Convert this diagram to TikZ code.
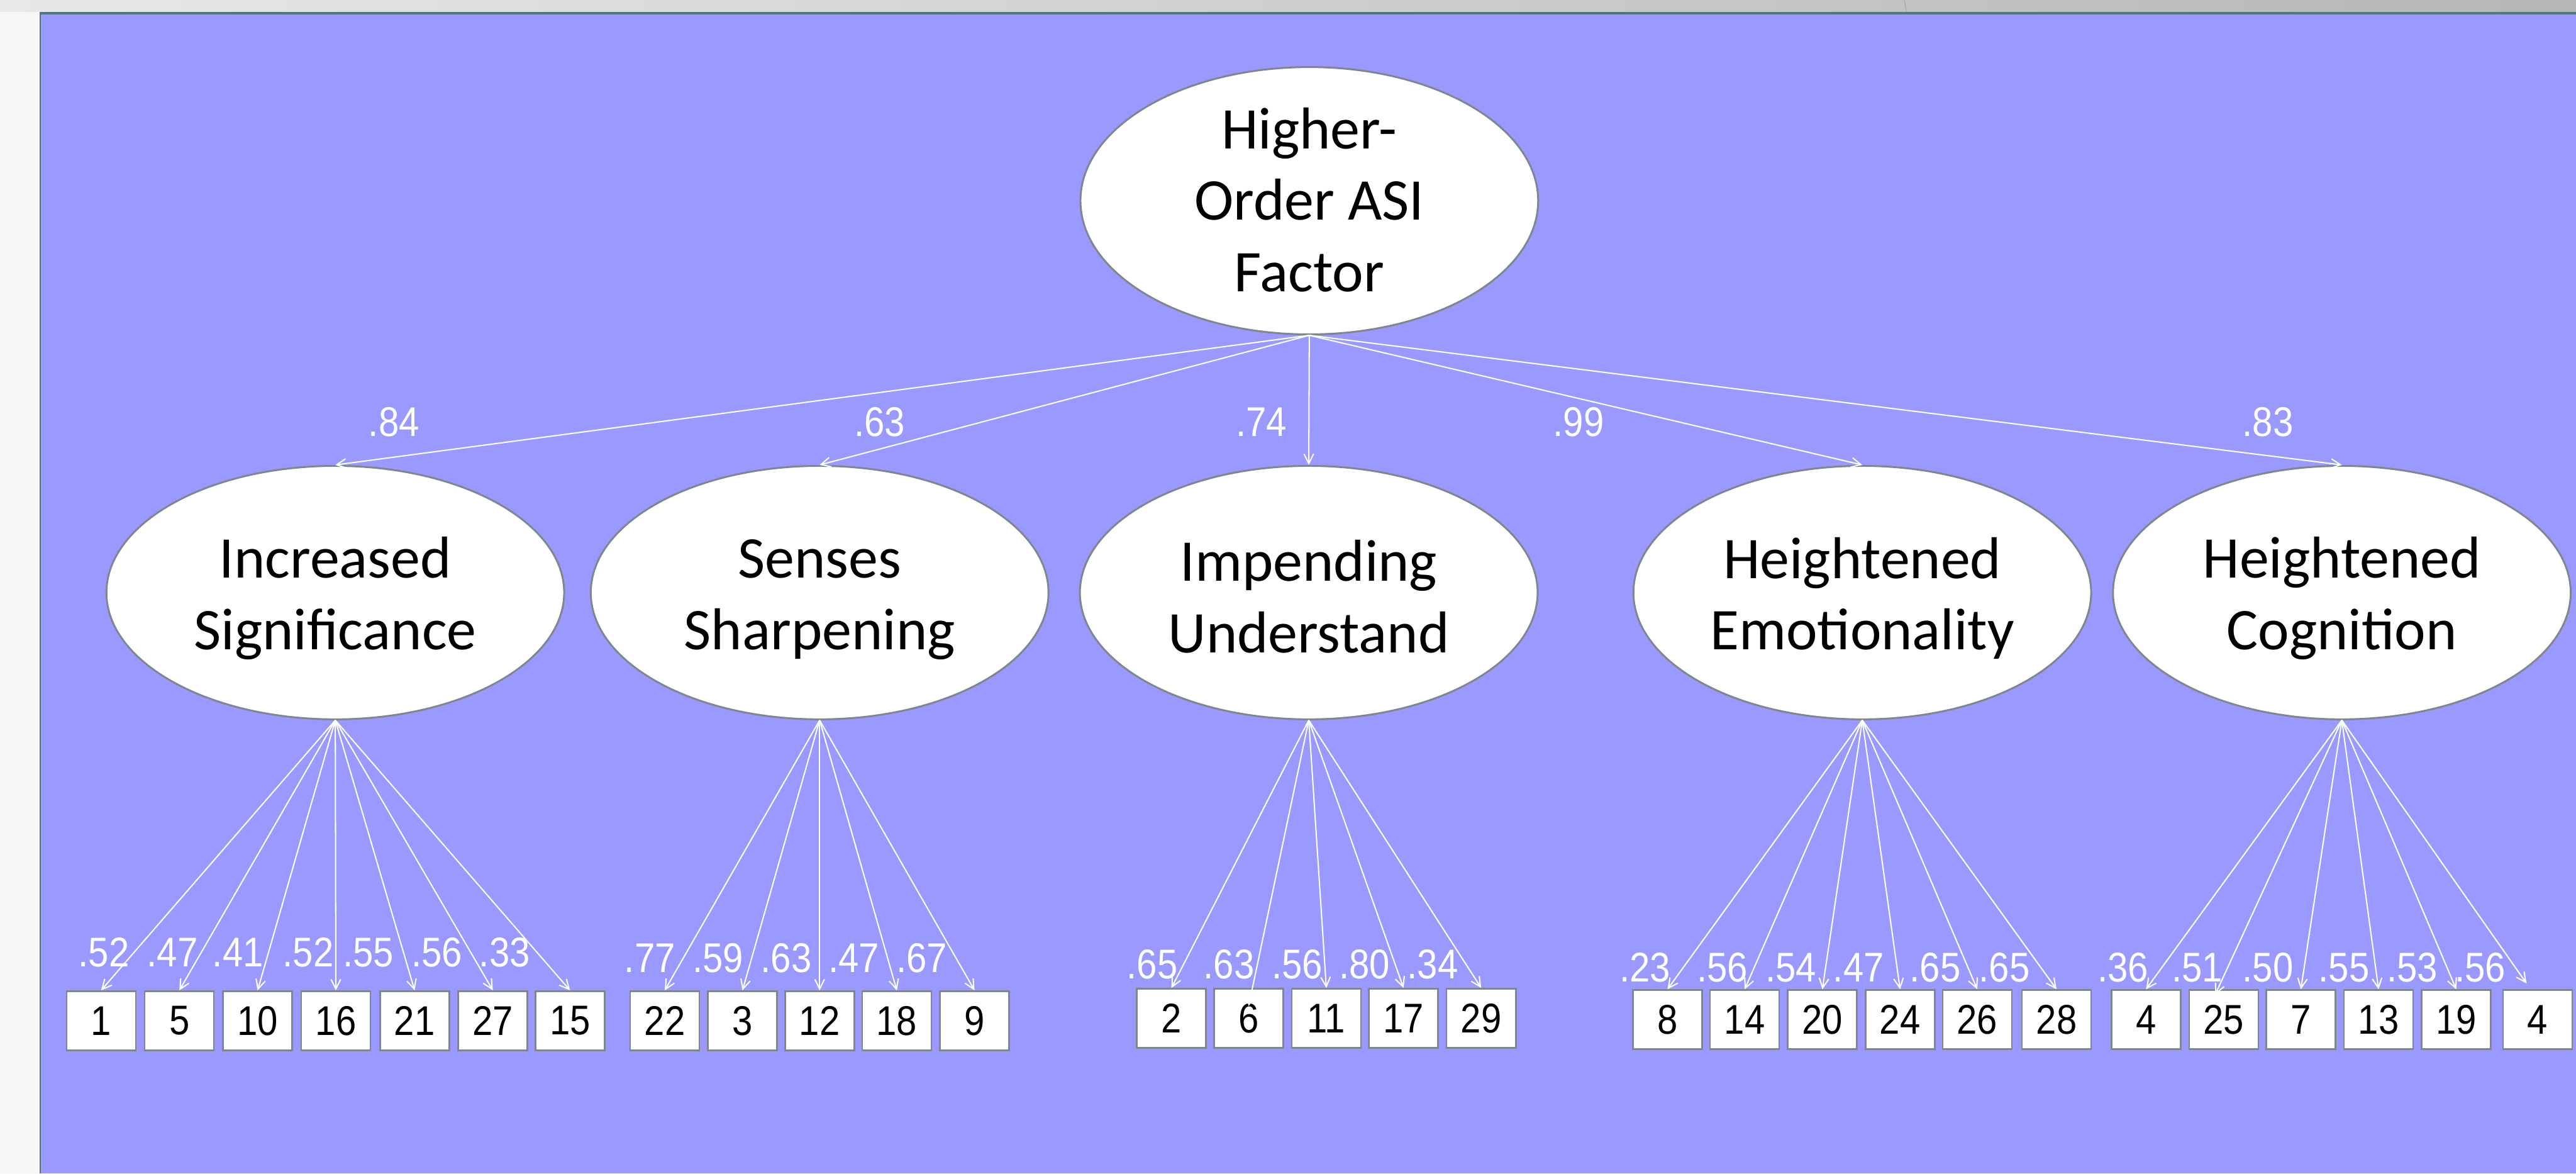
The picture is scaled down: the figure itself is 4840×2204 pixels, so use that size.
\documentclass[tikz,border=0pt]{standalone}
\usepackage{fontspec}
\usetikzlibrary{shapes.geometric,arrows.meta}
\newfontfamily\calib{Carlito}
\newfontfamily\numfont[FakeStretch=0.88]{Liberation Sans}
\newcommand\topst{\rule{0pt}{40pt}}
\newcommand\topstb{\rule{0pt}{49pt}}
\newcommand\botst{\rule[-3.5pt]{0pt}{3.5pt}}
\definecolor{bgblue}{RGB}{153,153,255}
\definecolor{slate}{RGB}{82,117,131}
\definecolor{bordergray}{RGB}{128,134,142}
\definecolor{bandL}{RGB}{232,232,232}
\definecolor{bandR}{RGB}{182,182,182}
\definecolor{stripgray}{RGB}{246,246,246}
\definecolor{bandline}{RGB}{165,165,165}
\tikzset{
  latent/.style={ellipse, draw=bordergray, line width=1.75pt, fill=white,
    minimum width=430pt, minimum height=238pt, inner sep=0pt, align=center,
    font=\calib\fontsize{55.5}{67}\selectfont},
  item/.style={rectangle, draw=bordergray, line width=1.5pt, fill=white,
    minimum width=65pt, minimum height=55.5pt, inner sep=0pt,
    font=\numfont\fontsize{39}{46}\selectfont},
  load/.style={text=white, inner sep=0pt, anchor=base,
    font=\numfont\fontsize{39}{46}\selectfont},
  conn/.style={draw=white, line width=1.2pt, -{Straight Barb[length=9pt,width=9pt]}},
}
\begin{document}
\begin{tikzpicture}[x=0.5pt,y=-0.5pt]
\useasboundingbox (0,0) rectangle (4840,2204);
% background
\shade[left color=bandL, right color=bandR] (0,0) rectangle (4840,23);
\draw[bandline, line width=0.6pt] (3578,0) -- (3582,23);
\fill[stripgray] (0,23) rectangle (74,2204);
\fill[bgblue] (74,23) rectangle (4840,2204);
\fill[slate] (74,23) rectangle (4840,27);
\fill[slate] (74,23) rectangle (77,2204);

% latent factors
\node[latent] (hof) at (2460,377) {\topst Higher-\\Order ASI\\Factor\botst};
\node[latent] (f1) at (630,1113) {\topstb Increased\\Significance\botst};
\node[latent] (f2) at (1540,1113) {\topstb Senses\\Sharpening\botst};
\node[latent] (f3) at (2459,1113) {\topstb Impending\\Understand\botst};
\node[latent] (f4) at (3499,1113) {\topstb Heightened\\Emotionality\botst};
\node[latent] (f5) at (4400,1113) {\topstb Heightened\\Cognition\botst};

% items
\foreach \x/\t/\n in {190/1/a1, 337/5/a2, 484/10/a3, 631/16/a4, 779/21/a5, 926/27/a6, 1071/15/a7}
  \node[item] (\n) at (\x,1917) {\t};
\foreach \x/\t/\n in {1249/22/b1, 1395/3/b2, 1540/12/b3, 1685/18/b4, 1831/9/b5}
  \node[item] (\n) at (\x,1917) {\t};
\foreach \x/\t/\n in {2201/2/c1, 2346/6/c2, 2492/11/c3, 2637/17/c4, 2783/29/c5}
  \node[item] (\n) at (\x,1912.5) {\t};
\foreach \x/\t/\n in {3133/8/d1, 3278/14/d2, 3424/20/d3, 3570/24/d4, 3715/26/d5, 3864/28/d6}
  \node[item] (\n) at (\x,1915) {\t};
\foreach \x/\t/\n in {4032/4/e1, 4178/25/e2, 4323/7/e3, 4469/13/e4, 4615/19/e5, 4768/4/e6}
  \node[item] (\n) at (\x,1915) {\t};

% structural paths
\foreach \f in {f1,f2,f3,f4,f5}
  \draw[conn] (hof.south) -- (\f.north);

% measurement paths
\foreach \n in {a1,a2,a3,a4,a5,a6,a7}
  \draw[conn] (f1.south) -- (\n.north);
\foreach \n in {b1,b2,b3,b4,b5}
  \draw[conn] (f2.south) -- (\n.north);
\foreach \n in {c1,c3,c4,c5}
  \draw[conn] (f3.south) -- (\n.north);
\draw[conn] (f3.south) -- ([yshift=-17pt]c2.north);
\foreach \n in {d1,d2,d3,d4,d5,d6}
  \draw[conn] (f4.south) -- (\n.north);
\foreach \n in {e1,e3,e4,e5}
  \draw[conn] (f5.south) -- (\n.north);
\draw[conn] (f5.south) -- ([xshift=-8pt,yshift=-5pt]e2.north);
\draw[conn] (f5.south) -- ([xshift=-10.5pt,yshift=5.5pt]e6.north);

% loadings, second order
\node[load] (g1) at (740,820) {.84};
\node[load] (g2) at (1653,820) {.63};
\node[load] (g3) at (2370,820) {.74};
\node[load] (g4) at (2966,820) {.99};
\node[load] (g5) at (4261,820) {.83};

% loadings, first order
\foreach \x/\t [count=\i] in {195/.52, 324/.47, 447/.41, 579/.52, 692/.55, 821/.56, 948/.33}
  \node[load] (la\i) at (\x,1815) {\t};
\foreach \x/\t [count=\i] in {1221/.77, 1349/.59, 1477/.63, 1604/.47, 1732/.67}
  \node[load] (lb\i) at (\x,1826) {\t};
\foreach \x/\t [count=\i] in {2165/.65, 2309/.63, 2437/.56, 2564/.80, 2692/.34}
  \node[load] (lc\i) at (\x,1838) {\t};
\foreach \x/\t [count=\i] in {3091/.23, 3236/.56, 3365/.54, 3492/.47, 3636/.65, 3766/.65}
  \node[load] (ld\i) at (\x,1844) {\t};
\foreach \x/\t [count=\i] in {3989/.36, 4128/.51, 4261/.50, 4404/.55, 4532/.53, 4660/.56}
  \node[load] (le\i) at (\x,1844) {\t};
\end{tikzpicture}
\end{document}
